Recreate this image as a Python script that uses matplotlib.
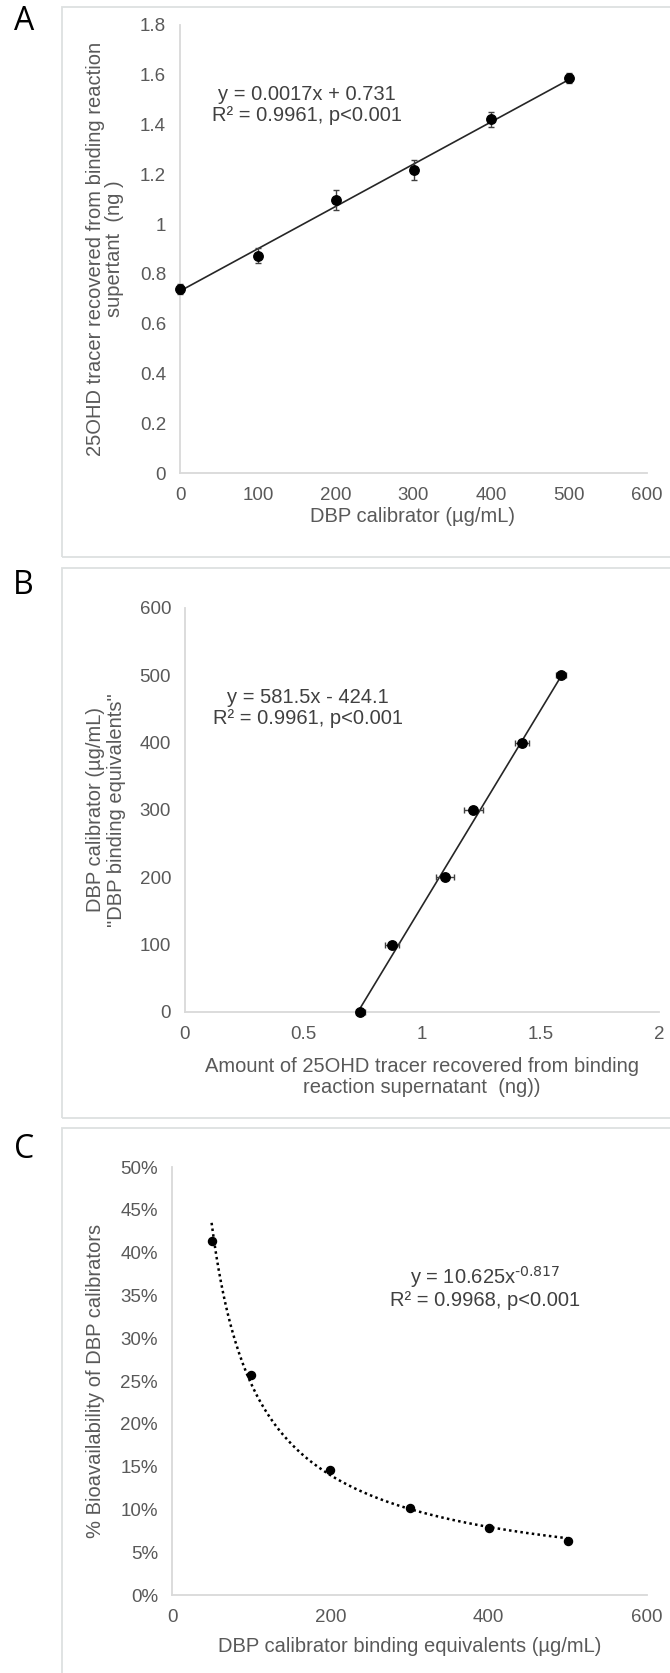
import numpy as np
import matplotlib
matplotlib.use("Agg")
import matplotlib.pyplot as plt
from matplotlib.patches import Rectangle
from matplotlib.ticker import FuncFormatter

W, H = 670, 1673
plt.rcParams["font.family"] = ["Liberation Sans", "DejaVu Sans"]
plt.rcParams["mathtext.default"] = "regular"

# panel A / B: calibrator vs recovered tracer
dbp = [0, 100, 200, 300, 400, 500]
tracer_ng = [0.74, 0.873, 1.097, 1.217, 1.421, 1.586]
tracer_err = [0.02, 0.03, 0.04, 0.04, 0.03, 0.02]
fit_a = (0.0017, 0.731)      # slope, intercept
fit_b = (581.5, -424.1)

# panel C: bioavailability vs binding equivalents
dbp_equiv = [50, 100, 200, 300, 400, 500]
bioavail = [0.413, 0.257, 0.146, 0.102, 0.078, 0.063]
fit_c = (10.625, -0.817)     # y = a * x^b

GRAY = "#595959"
SPINE = "#d9d9d9"
BOX = "#dde0e0"
TXT = "#404040"
TICK_FS = 13.5
LAB_FS = 14.5

fig = plt.figure(figsize=(W / 100, H / 100), dpi=100)


def axes_px(l, t, r, b):
    return fig.add_axes([l / W, 1 - b / H, (r - l) / W, (b - t) / H])


def text_px(x, y, s, **kw):
    fig.text(x / W, 1 - y / H, s, **kw)


def box_px(l, t, r, b):
    fig.patches.append(Rectangle((l / W, 1 - b / H), (r - l) / W, (b - t) / H,
                                 transform=fig.transFigure, fill=False, ec=BOX, lw=1.3))


def style(ax):
    for s in ["top", "right"]:
        ax.spines[s].set_visible(False)
    for s in ["left", "bottom"]:
        ax.spines[s].set_color(SPINE)
        ax.spines[s].set_linewidth(1.3)
    ax.tick_params(length=0, labelsize=TICK_FS, labelcolor=GRAY, pad=10)
    ax.patch.set_alpha(0)


gfmt = FuncFormatter(lambda v, p: f"{v:g}")

# boxes around each panel
box_px(62, 7, 680, 557)
box_px(62, 568, 680, 1118)
box_px(62, 1128, 680, 1680)

# ---------- A ----------
ax = axes_px(180, 25, 647, 473)
style(ax)
xa = np.array([min(dbp), max(dbp)])
ax.plot(xa, fit_a[0] * xa + fit_a[1], color="#262626", lw=1.2)
ax.errorbar(dbp, tracer_ng, yerr=tracer_err, fmt="o", color="black", ms=6.8,
            ecolor=TXT, elinewidth=1, capsize=2.5, clip_on=False, zorder=3)
ax.set_xlim(0, 600)
ax.set_ylim(0, 1.8)
ax.set_xticks(np.arange(0, 601, 100))
ax.set_yticks(np.arange(0, 1.81, 0.2))
ax.xaxis.set_major_formatter(gfmt)
ax.yaxis.set_major_formatter(FuncFormatter(lambda v, p: f"{round(v, 1):g}"))
text_px(307, 105, "y = 0.0017x + 0.731\nR² = 0.9961, p<0.001", ha="center", va="center",
        fontsize=LAB_FS, color=TXT, linespacing=1.1)
text_px(105, 249, "25OHD tracer recovered from binding reaction\nsupertant  (ng )", rotation=90,
        ha="center", va="center", fontsize=LAB_FS, color=GRAY, linespacing=1.0)
text_px(413, 517, "DBP calibrator (µg/mL)", ha="center", va="center", fontsize=LAB_FS, color=GRAY)
text_px(24, 22, "A", ha="center", va="center", fontsize=23, family=["Open Sans"])

# ---------- B ----------
ax = axes_px(185, 608, 659, 1012)
style(ax)
xb = np.array([min(tracer_ng), max(tracer_ng)])
ax.plot(xb, fit_b[0] * xb + fit_b[1], color="#262626", lw=1.2)
ax.errorbar(tracer_ng, dbp, xerr=tracer_err, fmt="o", color="black", ms=6.8,
            ecolor=TXT, elinewidth=1, capsize=2.5, clip_on=False, zorder=3)
ax.set_xlim(0, 2)
ax.set_ylim(0, 600)
ax.set_xticks(np.arange(0, 2.01, 0.5))
ax.set_yticks(np.arange(0, 601, 100))
ax.xaxis.set_major_formatter(gfmt)
ax.yaxis.set_major_formatter(gfmt)
text_px(308, 708, "y = 581.5x - 424.1\nR² = 0.9961, p<0.001", ha="center", va="center",
        fontsize=LAB_FS, color=TXT, linespacing=1.1)
text_px(106, 810, 'DBP calibrator (µg/mL)\n"DBP binding equivalents"', rotation=90,
        ha="center", va="center", fontsize=LAB_FS, color=GRAY, linespacing=1.1)
text_px(422, 1077, "Amount of 25OHD tracer recovered from binding\nreaction supernatant  (ng))",
        ha="center", va="center", fontsize=LAB_FS, color=GRAY, linespacing=1.1)
text_px(23, 586, "B", ha="center", va="center", fontsize=23, family=["Open Sans"])

# ---------- C ----------
ax = axes_px(172, 1167, 647, 1595)
style(ax)
xc = np.linspace(min(dbp_equiv), max(dbp_equiv), 300)
ax.plot(xc, fit_c[0] * xc ** fit_c[1], color="black", lw=1.8, ls=(0, (1, 1.3)))
ax.plot(dbp_equiv, bioavail, "o", color="black", ms=5.8, zorder=3, clip_on=False)
ax.set_xlim(0, 600)
ax.set_ylim(0, 0.5)
ax.set_xticks([0, 200, 400, 600])
ax.set_yticks(np.arange(0, 0.51, 0.05))
ax.xaxis.set_major_formatter(gfmt)
ax.yaxis.set_major_formatter(FuncFormatter(lambda v, p: f"{v * 100:.0f}%"))
text_px(485, 1277, r"y = 10.625x$^{\text{-0.817}}$", ha="center", va="center",
        fontsize=LAB_FS, color=TXT)
text_px(485, 1300, "R² = 0.9968, p<0.001", ha="center", va="center", fontsize=LAB_FS, color=TXT)
text_px(96, 1381, "% Bioavailability of DBP calibrators", rotation=90,
        ha="center", va="center", fontsize=LAB_FS, color=GRAY)
text_px(410, 1647, "DBP calibrator binding equivalents (µg/mL)", ha="center", va="center",
        fontsize=LAB_FS, color=GRAY)
text_px(24, 1149, "C", ha="center", va="center", fontsize=23, family=["Open Sans"])

fig.savefig("out.png", dpi=100)
